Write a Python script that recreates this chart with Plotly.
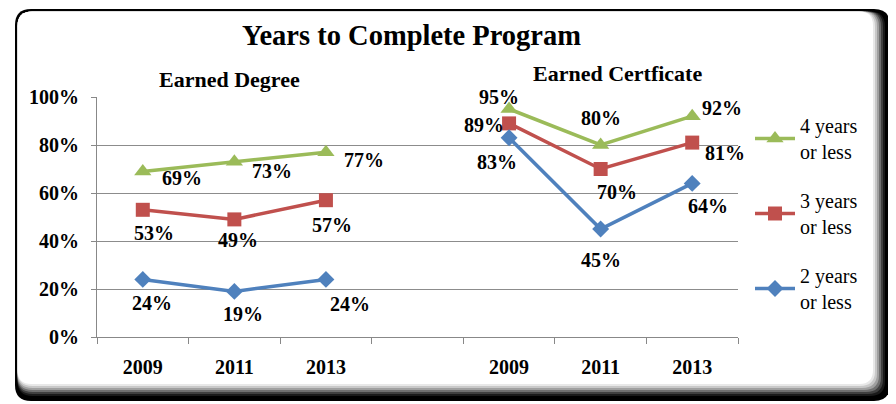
import plotly.graph_objects as go

# ---- data ----
years = ["2009", "2011", "2013"]
groups = ["Earned Degree", "Earned Certficate"]
series_names = ["4 years<br>or less", "3 years<br>or less", "2 years<br>or less"]
degree_4yr = [69, 73, 77]
degree_3yr = [53, 49, 57]
degree_2yr = [24, 19, 24]
cert_4yr = [95, 80, 92]
cert_3yr = [89, 70, 81]
cert_2yr = [83, 45, 64]
y_ticks = [0, 20, 40, 60, 80, 100]

# ---- layout helpers (page body has an 8px margin) ----
OFF = 8
W, H = 896 - OFF, 404 - OFF
ML, MT = 97 - OFF, 97 - OFF
MR, MB = W - (738 - OFF), H - (337 - OFF)
PW, PH = W - ML - MR, H - MT - MB


def px(x):
    return (x - OFF - ML) / PW


def py(y):
    return (H - MB - (y - OFF)) / PH


cats = ["D" + y for y in years] + ["gap"] + ["C" + y for y in years]
ticktext = years + [""] + years

colors = {"4": "#9BBB59", "3": "#C0504D", "2": "#4F81BD"}
symbols = {"4": "triangle-up", "3": "square", "2": "diamond"}
sizes = {"4": 15, "3": 14, "2": 13}

# label offsets (pixels right, pixels down) for each point
label_offsets = {
    "4": [(39, 7), (38, 9), (38, 8), None, (-10, -12), (0, -27), (30, -8)],
    "3": [(11, 23), (4, 21), (6, 25), None, (-25, 2), (16, 23), (33, 10)],
    "2": [(9, 24), (9, 23), (24, 25), None, (-12, 24), (0, 31), (16, 23)],
}

series = [
    ("4", degree_4yr, cert_4yr, series_names[0]),
    ("3", degree_3yr, cert_3yr, series_names[1]),
    ("2", degree_2yr, cert_2yr, series_names[2]),
]

FONT = "Liberation Serif"
fig = go.Figure()
annotations = []
for i, (k, d, c, name) in enumerate(series):
    yv = d + [None] + c
    fig.add_trace(go.Scatter(
        x=cats, y=yv, name=name, mode="lines+markers",
        line=dict(color=colors[k], width=3.5),
        marker=dict(symbol=symbols[k], size=sizes[k], color=colors[k]),
        connectgaps=False, legendgroup=k, legendrank=i + 1, cliponaxis=False,
    ))
    for xc, v, off in zip(cats, yv, label_offsets[k]):
        if v is None:
            continue
        annotations.append(dict(
            x=xc, y=v, xref="x", yref="y", text=f"<b>{v}%</b>", showarrow=False,
            xanchor="center", yanchor="middle",
            xshift=off[0], yshift=-off[1],
            font=dict(family=FONT, size=20, color="black"),
        ))

# frame shapes
shapes = []


def rrect(x0, y0, x1, y1, r):
    X0, X1 = px(x0), px(x1)
    rx = r / PW
    ry = r / PH
    Y0, Y1 = py(y0), py(y1)  # Y0 top, Y1 bottom
    return (f"M {X0+rx},{Y0} L {X1-rx},{Y0} Q {X1},{Y0} {X1},{Y0-ry} "
            f"L {X1},{Y1+ry} Q {X1},{Y1} {X1-rx},{Y1} L {X0+rx},{Y1} "
            f"Q {X0},{Y1} {X0},{Y1+ry} L {X0},{Y0-ry} Q {X0},{Y0} {X0+rx},{Y0} Z")


TOP = 9
shapes.append(dict(type="path", xref="paper", yref="paper", path=rrect(15, TOP, 890, 401, 16),
                   fillcolor="black", line=dict(width=0), layer="below"))
grads = [(3, "#1a1a1a"), (5, "#404040"), (7, "#707070"), (9, "#a0a0a0"), (11, "#c8c8c8"), (13, "#e8e8e8")]
for off, col in grads:
    shapes.append(dict(type="path", xref="paper", yref="paper",
                       path=rrect(17.5, TOP + 2.5, 888 - off, 399 - off, 15),
                       fillcolor=col, line=dict(width=0), layer="below"))
shapes.append(dict(type="path", xref="paper", yref="paper",
                   path=rrect(17.5, TOP + 2.5, 873, 384, 14),
                   fillcolor="white", line=dict(width=0), layer="below"))

annotations += [
    dict(text="<b>Years to Complete Program</b>", x=px(411), y=py(35), xref="paper", yref="paper",
         xanchor="center", yanchor="middle",
         showarrow=False, font=dict(family=FONT, size=28.5, color="black")),
    dict(text=f"<b>{groups[0]}</b>", x=px(229), y=py(79), xref="paper", yref="paper",
         xanchor="center", yanchor="middle",
         showarrow=False, font=dict(family=FONT, size=22, color="black")),
    dict(text=f"<b>{groups[1]}</b>", x=px(617), y=py(74), xref="paper", yref="paper",
         xanchor="center", yanchor="middle",
         showarrow=False, font=dict(family=FONT, size=22, color="black")),
]

fig.update_layout(
    width=W, height=H,
    margin=dict(l=ML, r=MR, t=MT, b=MB, autoexpand=False),
    paper_bgcolor="white", plot_bgcolor="rgba(0,0,0,0)",
    shapes=shapes, annotations=annotations,
    showlegend=True,
    legend=dict(x=px(750), y=py(106), xanchor="left", yanchor="top",
                font=dict(family=FONT, size=20, color="black"),
                bgcolor="rgba(0,0,0,0)", tracegroupgap=20, itemwidth=40,
                traceorder="grouped"),
    xaxis=dict(type="category", categoryorder="array", categoryarray=cats,
               range=[-0.5, len(cats) - 0.5],
               tickmode="array", tickvals=cats,
               ticktext=[f"<b>{t}</b>" if t else "" for t in ticktext],
               tickson="boundaries", ticks="outside", ticklen=6, tickcolor="#888",
               showline=True, linecolor="#888", linewidth=1, showgrid=False,
               ticklabelstandoff=12, automargin=False,
               tickfont=dict(family=FONT, size=20, color="black"), fixedrange=True),
    yaxis=dict(range=[0, 100], tickvals=y_ticks, ticktext=[f"<b>{v}%</b>" for v in y_ticks],
               showgrid=True, gridcolor="#8c8c8c", gridwidth=1,
               showline=True, linecolor="#888", ticks="outside", ticklen=5, tickcolor="#888",
               zeroline=False, ticklabelstandoff=8, automargin=False,
               tickfont=dict(family=FONT, size=20, color="black"), fixedrange=True),
)

fig.write_html("out.html")
